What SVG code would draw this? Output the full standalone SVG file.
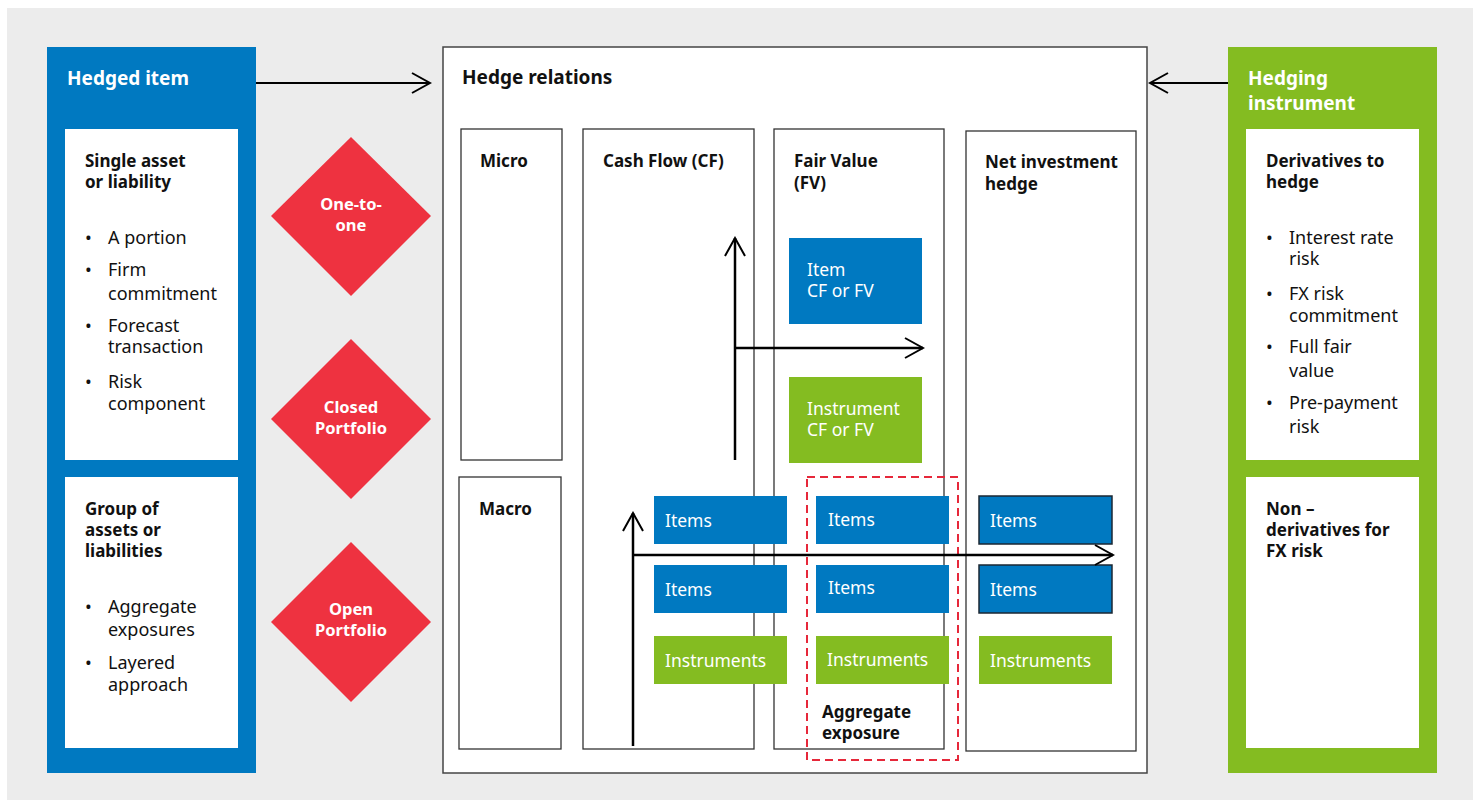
<svg xmlns="http://www.w3.org/2000/svg" width="1480" height="801" viewBox="0 0 1480 801">
<defs>
<style>
text{font-family:"Noto Sans","Liberation Sans",sans-serif;}
.t{font-size:19px;font-weight:bold;}
.w{fill:#ffffff;}
.b{font-size:17px;font-weight:bold;fill:#111;}
.r{font-size:18px;fill:#111;}
.rw{font-size:17.5px;fill:#ffffff;}
.dt{font-size:16.5px;font-weight:bold;fill:#ffffff;}
.col{fill:#ffffff;stroke:#333;stroke-width:1.3;}
.blue{fill:#0079c1;}
.green{fill:#84bc21;}
.dia{fill:#ee3240;}
.conn{stroke:#000;stroke-width:2;fill:none;}
.conn2{stroke:#000;stroke-width:2.5;fill:none;}
</style>
<marker id="ah" viewBox="0 0 22 24" refX="20" refY="12" markerWidth="22" markerHeight="24" markerUnits="userSpaceOnUse" orient="auto">
<path d="M2,2 L20,12 L2,22" fill="none" stroke="#000" stroke-width="2"/>
</marker>
</defs>
<rect x="0" y="0" width="1480" height="801" fill="#ffffff"/>
<rect x="7" y="8" width="1466" height="792" fill="#ececec"/>

<g id="hedged-item">
<rect x="47" y="47" width="209" height="726" class="blue"/>
<text x="67" y="85" class="t w">Hedged item</text>
</g>
<g id="single-asset">
<rect x="65" y="129" width="173" height="331" fill="#fff"/>
<text x="85" y="167" class="b">Single asset</text>
<text x="85" y="188" class="b">or liability</text>
<text x="85" y="244" class="r">•</text><text x="108" y="244" class="r">A portion</text>
<text x="85" y="276" class="r">•</text><text x="108" y="276" class="r">Firm</text>
<text x="108" y="300" class="r">commitment</text>
<text x="85" y="332" class="r">•</text><text x="108" y="332" class="r">Forecast</text>
<text x="108" y="353" class="r">transaction</text>
<text x="85" y="388" class="r">•</text><text x="108" y="388" class="r">Risk</text>
<text x="108" y="410" class="r">component</text>
</g>
<g id="group-assets">
<rect x="65" y="477" width="173" height="271" fill="#fff"/>
<text x="85" y="515" class="b">Group of</text>
<text x="85" y="536" class="b">assets or</text>
<text x="85" y="557" class="b">liabilities</text>
<text x="85" y="613" class="r">•</text><text x="108" y="613" class="r">Aggregate</text>
<text x="108" y="636" class="r">exposures</text>
<text x="85" y="669" class="r">•</text><text x="108" y="669" class="r">Layered</text>
<text x="108" y="691" class="r">approach</text>
</g>

<g id="one-to-one">
<polygon points="351,137 431,216 351,296 271,216" class="dia"/>
<text text-anchor="middle" class="dt"><tspan x="351" y="210">One-to-</tspan><tspan x="351" y="231">one</tspan></text>
</g>
<g id="closed-portfolio">
<polygon points="351,339 431,419 351,499 271,419" class="dia"/>
<text text-anchor="middle" class="dt"><tspan x="351" y="413">Closed</tspan><tspan x="351" y="434">Portfolio</tspan></text>
</g>
<g id="open-portfolio">
<polygon points="351,542 431,622 351,702 271,622" class="dia"/>
<text text-anchor="middle" class="dt"><tspan x="351" y="615">Open</tspan><tspan x="351" y="636">Portfolio</tspan></text>
</g>

<g id="hedge-relations">
<rect x="443" y="47" width="704" height="726" fill="#fff" stroke="#444" stroke-width="1.5"/>
<text x="462" y="84" class="t" fill="#111">Hedge relations</text>
</g>
<g id="micro">
<rect x="461" y="129" width="101" height="331" class="col"/>
<text x="480" y="167" class="b">Micro</text>
</g>
<g id="macro">
<rect x="459" y="477" width="102" height="272" class="col"/>
<text x="479" y="515" class="b">Macro</text>
</g>
<g id="cash-flow">
<rect x="583" y="129" width="171" height="620" class="col"/>
<text x="603" y="167" class="b">Cash Flow (CF)</text>
</g>
<g id="fair-value">
<rect x="774" y="129" width="170" height="620" class="col"/>
<text x="794" y="167" class="b">Fair Value</text>
<text x="794" y="189" class="b">(FV)</text>
</g>
<g id="net-investment">
<rect x="966" y="131" width="170" height="620" class="col"/>
<text x="985" y="168" class="b">Net investment</text>
<text x="985" y="190" class="b">hedge</text>
</g>

<g id="item-cf-fv">
<rect x="789" y="238" width="133" height="86" class="blue"/>
<text x="807" y="276" class="rw">Item</text>
<text x="807" y="297" class="rw">CF or FV</text>
</g>
<g id="instrument-cf-fv">
<rect x="789" y="377" width="133" height="86" class="green"/>
<text x="807" y="415" class="rw">Instrument</text>
<text x="807" y="436" class="rw">CF or FV</text>
</g>

<g id="cf-items-1"><rect x="654" y="496" width="133" height="48" class="blue"/><text x="665" y="527" class="rw">Items</text></g>
<g id="cf-items-2"><rect x="654" y="565" width="133" height="48" class="blue"/><text x="665" y="596" class="rw">Items</text></g>
<g id="cf-instruments"><rect x="654" y="636" width="133" height="48" class="green"/><text x="665" y="667" class="rw">Instruments</text></g>

<g id="fv-items-1"><rect x="816" y="496" width="133" height="48" class="blue"/><text x="828" y="526" class="rw">Items</text></g>
<g id="fv-items-2"><rect x="816" y="565" width="133" height="48" class="blue"/><text x="828" y="594" class="rw">Items</text></g>
<g id="fv-instruments"><rect x="816" y="636" width="133" height="48" class="green"/><text x="827" y="666" class="rw">Instruments</text></g>

<g id="nih-items-1"><rect x="979" y="496" width="133" height="48" class="blue" stroke="#1b2733" stroke-width="1.5"/><text x="990" y="527" class="rw">Items</text></g>
<g id="nih-items-2"><rect x="979" y="565" width="133" height="48" class="blue" stroke="#1b2733" stroke-width="1.5"/><text x="990" y="596" class="rw">Items</text></g>
<g id="nih-instruments"><rect x="979" y="636" width="133" height="48" class="green"/><text x="990" y="667" class="rw">Instruments</text></g>

<g id="aggregate-exposure">
<rect x="807" y="477" width="151" height="283" fill="none" stroke="#e6283a" stroke-width="2" stroke-dasharray="8,5"/>
<text x="822" y="718" class="b">Aggregate</text>
<text x="822" y="739" class="b">exposure</text>
</g>

<g id="hedging-instrument">
<rect x="1228" y="47" width="209" height="726" class="green"/>
<text x="1248" y="85" class="t w">Hedging</text>
<text x="1248" y="110" class="t w">instrument</text>
</g>
<g id="derivatives">
<rect x="1246" y="129" width="173" height="331" fill="#fff"/>
<text x="1266" y="167" class="b">Derivatives to</text>
<text x="1266" y="188" class="b">hedge</text>
<text x="1266" y="244" class="r">•</text><text x="1289" y="244" class="r">Interest rate</text>
<text x="1289" y="265" class="r">risk</text>
<text x="1266" y="300" class="r">•</text><text x="1289" y="300" class="r">FX risk</text>
<text x="1289" y="322" class="r">commitment</text>
<text x="1266" y="353" class="r">•</text><text x="1289" y="353" class="r">Full fair</text>
<text x="1289" y="377" class="r">value</text>
<text x="1266" y="409" class="r">•</text><text x="1289" y="409" class="r">Pre-payment</text>
<text x="1289" y="433" class="r">risk</text>
</g>
<g id="non-derivatives">
<rect x="1246" y="477" width="173" height="271" fill="#fff"/>
<text x="1266" y="515" class="b">Non –</text>
<text x="1266" y="536" class="b">derivatives for</text>
<text x="1266" y="557" class="b">FX risk</text>
</g>

<g id="connectors">
<line x1="256" y1="83" x2="430" y2="83" class="conn" marker-end="url(#ah)"/>
<line x1="1228" y1="83" x2="1150" y2="83" class="conn" marker-end="url(#ah)"/>
<line x1="735" y1="460" x2="735" y2="238" class="conn2" marker-end="url(#ah)"/>
<line x1="735" y1="348" x2="923" y2="348" class="conn2" marker-end="url(#ah)"/>
<line x1="633" y1="746" x2="633" y2="513" class="conn2" marker-end="url(#ah)"/>
<line x1="633" y1="555" x2="1113" y2="555" class="conn2" marker-end="url(#ah)"/>
</g>
</svg>
